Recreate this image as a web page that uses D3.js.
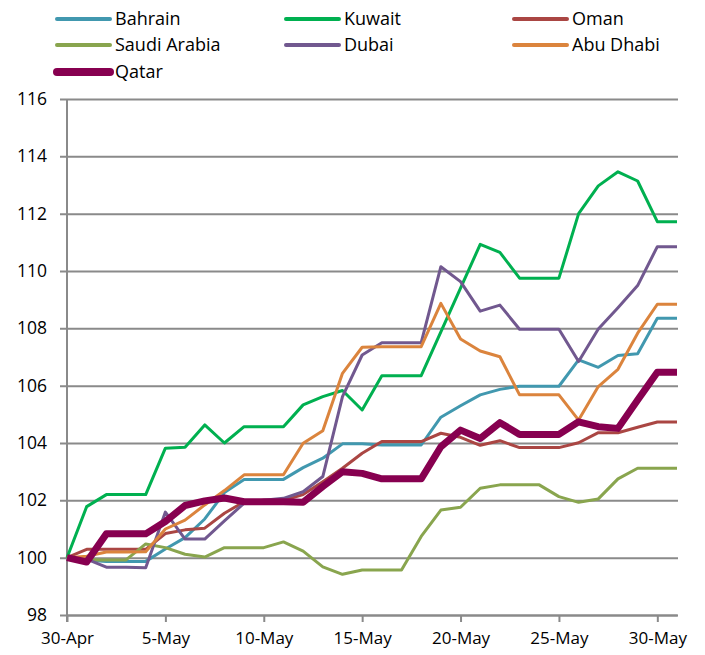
<!DOCTYPE html>
<html>
<head>
<meta charset="utf-8">
<script src="https://cdn.jsdelivr.net/npm/d3@7"></script>
<style>
body{margin:0;background:#fff;}
svg text{font-family:"Open Sans",Lato,sans-serif;fill:#000;}
</style>
</head>
<body>
<div id="chart"></div>
<script>
// dates (daily, 30-Apr .. 31-May)
var dates=["2013-04-30","2013-05-01","2013-05-02","2013-05-03","2013-05-04","2013-05-05","2013-05-06","2013-05-07",
"2013-05-08","2013-05-09","2013-05-10","2013-05-11","2013-05-12","2013-05-13","2013-05-14","2013-05-15",
"2013-05-16","2013-05-17","2013-05-18","2013-05-19","2013-05-20","2013-05-21","2013-05-22","2013-05-23",
"2013-05-24","2013-05-25","2013-05-26","2013-05-27","2013-05-28","2013-05-29","2013-05-30","2013-05-31"];

var bahrain=[100,99.92,99.87,99.87,99.87,100.3,100.7,101.35,102.27,102.73,102.73,102.73,103.14,103.47,103.97,103.97,
103.93,103.93,103.93,104.9,105.3,105.68,105.87,105.98,105.98,105.98,106.9,106.64,107.05,107.11,108.35,108.35];
var kuwait=[100,101.78,102.2,102.2,102.2,103.82,103.85,104.63,104.0,104.57,104.57,104.57,105.33,105.62,105.83,105.15,
106.35,106.35,106.35,107.88,109.4,110.93,110.65,109.75,109.75,109.75,112.0,112.97,113.46,113.14,111.72,111.72];
var oman=[100,100.29,100.29,100.29,100.29,100.84,100.97,101.03,101.55,101.95,102.0,102.0,102.2,102.65,103.12,103.64,
104.05,104.05,104.05,104.34,104.2,103.92,104.08,103.84,103.84,103.84,104.01,104.36,104.36,104.55,104.73,104.73];
var saudi=[100,99.92,99.92,99.92,100.48,100.35,100.12,100.02,100.35,100.35,100.35,100.55,100.23,99.68,99.42,99.57,
99.57,99.57,100.74,101.66,101.76,102.42,102.54,102.54,102.54,102.13,101.93,102.05,102.75,103.12,103.12,103.12];
var dubai=[100,99.95,99.67,99.67,99.65,101.59,100.65,100.65,101.28,101.9,102.0,102.07,102.3,102.83,105.62,107.07,
107.5,107.5,107.5,110.15,109.63,108.6,108.81,107.97,107.97,107.97,106.84,107.98,108.72,109.49,110.85,110.85];
var abuDhabi=[100,100.05,100.2,100.2,100.21,101.0,101.31,101.84,102.34,102.89,102.89,102.89,103.99,104.43,106.43,107.34,
107.36,107.36,107.36,108.87,107.63,107.21,107.01,105.68,105.68,105.68,104.8,105.97,106.57,107.83,108.84,108.84];
var qatar=[100,99.85,100.83,100.83,100.83,101.26,101.82,101.98,102.08,101.95,101.95,101.95,101.93,102.48,103.0,102.94,
102.75,102.75,102.75,103.87,104.45,104.16,104.71,104.3,104.3,104.3,104.74,104.57,104.51,105.5,106.47,106.47];

var names=["Bahrain","Kuwait","Oman","Saudi Arabia","Dubai","Abu Dhabi","Qatar"];
var seriesValues=[bahrain,kuwait,oman,saudi,dubai,abuDhabi,qatar];
var colors=["#4198AF","#00B050","#AA4643","#89A54E","#71588F","#DB843D","#870050"];
var widths=[3,3,3,3,3,3,7];

var yTicks=[98,100,102,104,106,108,110,112,114,116];
var xTicks=["2013-04-30","2013-05-05","2013-05-10","2013-05-15","2013-05-20","2013-05-25","2013-05-30"];

var W=705,H=655;
var plot={left:67,right:678,top:99,bottom:615};
var grid_color="#8A8A8A";
var parse=d3.timeParse("%Y-%m-%d");

var svg=d3.select("#chart").append("svg").attr("width",W).attr("height",H);

var x=d3.scaleTime().domain([parse(dates[0]),parse(dates[dates.length-1])]).range([plot.left,plot.right-1]);
var y=d3.scaleLinear().domain([98,116]).range([plot.bottom,plot.top]);

//gridlines + y axis labels
var yAxis=d3.axisLeft(y).tickValues(yTicks).tickSize(-(plot.right-plot.left)).tickSizeOuter(0);
var gy=svg.append("g").attr("transform","translate("+plot.left+",0)").call(yAxis);
gy.select(".domain").remove();
gy.selectAll(".tick line").attr("stroke",grid_color).attr("stroke-width",2).attr("x1",-7);
gy.selectAll(".tick text").attr("font-size",17.5).attr("x",-20);

//y axis line
svg.append("line").attr("x1",plot.left).attr("x2",plot.left).attr("y1",plot.top).attr("y2",plot.bottom+7)
    .attr("stroke",grid_color).attr("stroke-width",2);

//x axis
var xAxis=d3.axisBottom(x).tickValues(xTicks.map(parse)).tickFormat(d3.timeFormat("%-d-%b")).tickSize(7).tickSizeOuter(0).tickPadding(7);
var gx=svg.append("g").attr("transform","translate(0,"+plot.bottom+")").call(xAxis);
gx.select(".domain").attr("stroke",grid_color).attr("stroke-width",2);
gx.selectAll(".tick line").attr("stroke",grid_color).attr("stroke-width",2);
gx.selectAll(".tick text").attr("font-size",17).attr("dy","0.9em");

//lines
var line=d3.line().x(function(d,i){return x(parse(dates[i]));}).y(function(d){return y(d);});
svg.append("g").selectAll("path").data(seriesValues).enter().append("path")
    .attr("d",line).attr("fill","none")
    .attr("stroke",function(d,i){return colors[i];})
    .attr("stroke-width",function(d,i){return widths[i];})
    .attr("stroke-linejoin","round");

//legend
var colX=[57,286,514];
var rowY=[19,45,72];
var lg=svg.append("g").selectAll("g").data(names).enter().append("g")
    .attr("transform",function(d,i){return "translate("+colX[i%3]+","+rowY[Math.floor(i/3)]+")";});
lg.append("line").attr("x1",0).attr("x2",53).attr("y1",0).attr("y2",0)
    .attr("stroke",function(d,i){return colors[i];})
    .attr("stroke-width",function(d,i){return widths[i]+1;})
    .attr("stroke-linecap","round");
lg.append("text").attr("x",58).attr("y",0).attr("dy","0.36em").attr("font-size",18).text(function(d){return d;});
</script>
</body>
</html>
